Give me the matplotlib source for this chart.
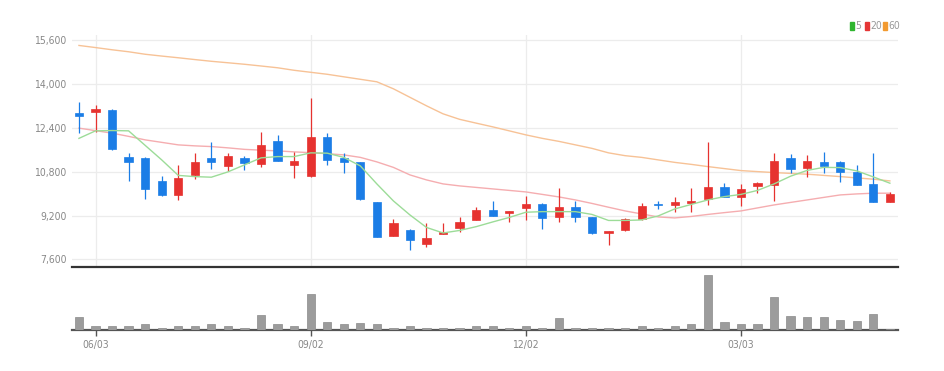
import numpy as np
import matplotlib
matplotlib.use("Agg")
import matplotlib.pyplot as plt
from matplotlib.patches import Rectangle

plt.rcParams['font.family'] = ['DejaVu Sans']
plt.rcParams['font.stretch'] = 'condensed'

# weekly candles
opens = [12944, 12980, 13064, 11355, 11319, 10477, 9953, 10685, 11297, 11015,
         11297, 11088, 11941, 11051, 10649, 12087, 11297, 11150, 9686, 8464,
         8672, 8160, 8526, 8735, 9038, 9404, 9284, 9466, 9624, 9137,
         9525, 9137, 8577, 8672, 9064, 9613, 9576, 9650, 9796, 10257,
         9891, 10283, 10319, 11297, 10953, 11150, 11172, 10806, 10356, 9708]
highs = [13346, 13247, 13080, 11502, 11330, 10649, 11051, 11480, 11882, 11480,
         11392, 12248, 12149, 11516, 13493, 12212, 11480, 11160, 9700, 9075,
         8690, 8940, 8940, 9159, 9503, 9745, 9380, 9928, 9650, 10199,
         9734, 9150, 8650, 9100, 9672, 9723, 9891, 10199, 11882, 10404,
         10345, 10440, 11480, 11454, 11417, 11538, 11209, 11051, 11480, 10052]
lows = [12212, 12270, 11610, 10477, 9796, 9930, 9770, 10528, 10894, 10843,
        10868, 10989, 11187, 10587, 10601, 11051, 10748, 9770, 8400, 8440,
        7940, 8039, 8515, 8610, 9030, 9170, 8976, 9038, 8698, 8954,
        8954, 8520, 8123, 8647, 9038, 9452, 9342, 9342, 9587, 9870,
        9551, 10016, 9745, 10748, 10623, 10748, 10440, 10300, 9700, 9700]
closes = [12845, 13101, 11637, 11172, 10162, 9953, 10565, 11172, 11161, 11381,
          11136, 11783, 11209, 11209, 12087, 11234, 11172, 9807, 8427, 8918,
          8306, 8369, 8588, 8954, 9404, 9185, 9368, 9613, 9100, 9525,
          9137, 8552, 8636, 9064, 9551, 9587, 9708, 9745, 10257, 9891,
          10162, 10382, 11198, 10894, 11198, 11026, 10806, 10319, 9708, 9990]
volumes = [127, 43, 43, 43, 57, 23, 43, 43, 57, 37,
           23, 147, 63, 43, 360, 77, 57, 73, 63, 23,
           37, 23, 23, 23, 37, 43, 23, 43, 23, 120,
           23, 23, 23, 23, 43, 23, 37, 57, 550, 77,
           57, 63, 333, 140, 127, 127, 97, 90, 160, 10]
ma5 = [12021, 12296, 12307, 12296, 11765, 11234, 10667, 10623, 10601, 10795,
       11051, 11308, 11355, 11355, 11491, 11480, 11326, 11015, 10356, 9734,
       9221, 8764, 8563, 8654, 8793, 8965, 9130, 9320, 9342, 9342,
       9342, 9240, 9020, 9020, 9038, 9185, 9441, 9606, 9770, 9891,
       9972, 10118, 10356, 10638, 10850, 10960, 10953, 10832, 10612, 10382]
ma20 = [12395, 12303, 12212, 12094, 11966, 11875, 11783, 11747, 11721, 11674,
        11619, 11589, 11564, 11527, 11498, 11461, 11417, 11326, 11161, 10960,
        10685, 10502, 10356, 10283, 10228, 10173, 10118, 10063, 9972, 9880,
        9770, 9642, 9503, 9368, 9258, 9148, 9112, 9166, 9240, 9306,
        9368, 9478, 9587, 9679, 9770, 9862, 9953, 9990, 10016, 10016]
ma60 = [15418, 15341, 15260, 15187, 15096, 15030, 14968, 14902, 14839, 14785,
        14730, 14667, 14602, 14510, 14437, 14364, 14272, 14181, 14089, 13833,
        13522, 13211, 12918, 12717, 12578, 12442, 12296, 12149, 12021, 11911,
        11783, 11655, 11491, 11388, 11326, 11234, 11143, 11070, 10989, 10916,
        10843, 10806, 10770, 10740, 10711, 10667, 10623, 10576, 10528, 10466]
tick_idx = [1, 14, 27, 40]
tick_labels = ['06/03', '09/02', '12/02', '03/03']
price_ticks = [7600, 9200, 10800, 12400, 14000, 15600]

UP = '#e6322f'
DOWN = '#1b7de6'
W, H = 944, 371

fig = plt.figure(figsize=(W / 100, H / 100), dpi=100)
ax = fig.add_axes([72 / W, 1 - 267 / H, 826 / W, 232 / H])
axv = fig.add_axes([72 / W, 1 - 330 / H, 826 / W, 60 / H])

x = np.arange(len(closes))
xlim = (-0.42, 49.49)

for i in x:
    o, h, l, c = opens[i], highs[i], lows[i], closes[i]
    col = UP if c >= o else DOWN
    ax.vlines(i, l, h, color=col, lw=0.9, zorder=3)
    bot = min(o, c)
    hgt = max(abs(c - o), 40)
    ax.add_patch(Rectangle((i - 0.25, bot), 0.5, hgt, facecolor=col,
                           edgecolor=col, lw=0.5, zorder=4))

ax.plot(x, ma60, color='#f7c296', lw=1.0, zorder=2)
ax.plot(x, ma20, color='#f5adb0', lw=1.0, zorder=2)
ax.plot(x, ma5, color='#9cdc98', lw=1.0, zorder=5)

ax.set_xlim(*xlim)
ax.set_ylim(7318, 15800)
ax.set_yticks(price_ticks)
ax.set_yticklabels([f'{v:,}' for v in price_ticks], fontsize=7.5, color='#888888')
ax.set_xticks(tick_idx)
ax.tick_params(axis='x', length=0, labelbottom=False)
ax.tick_params(axis='y', length=0, pad=4)
ax.grid(True, color='#ececec', lw=0.9)
ax.set_axisbelow(True)
for s in ['top', 'right', 'left']:
    ax.spines[s].set_visible(False)
ax.spines['bottom'].set_color('#333333')
ax.spines['bottom'].set_linewidth(1.6)

axv.bar(x, volumes, width=0.5, color='#9c9c9c', edgecolor='#8a8a8a', lw=0.5, zorder=3)
axv.set_xlim(*xlim)
axv.set_ylim(0, 600)
axv.set_yticks([])
axv.set_xticks(tick_idx)
axv.set_xticklabels(tick_labels, fontsize=7.5, color='#888888')
axv.tick_params(axis='x', length=4, width=1, color='#555555', pad=3)
for s in ['top', 'right', 'left']:
    axv.spines[s].set_visible(False)
axv.spines['bottom'].set_color('#555555')
axv.spines['bottom'].set_linewidth(1.6)

# legend in the top right corner
leg = [('5', '#2fb52f', 850), ('20', '#e53535', 865), ('60', '#f29a30', 883)]
for lab, col, px in leg:
    fig.add_artist(Rectangle((px / W, 1 - 30 / H), 4 / W, 8 / H,
                             transform=fig.transFigure, color=col))
    fig.text((px + 5) / W, 1 - 26 / H, lab, fontsize=7.5, color='#999999', va='center')

fig.savefig('out.png', dpi=100)
